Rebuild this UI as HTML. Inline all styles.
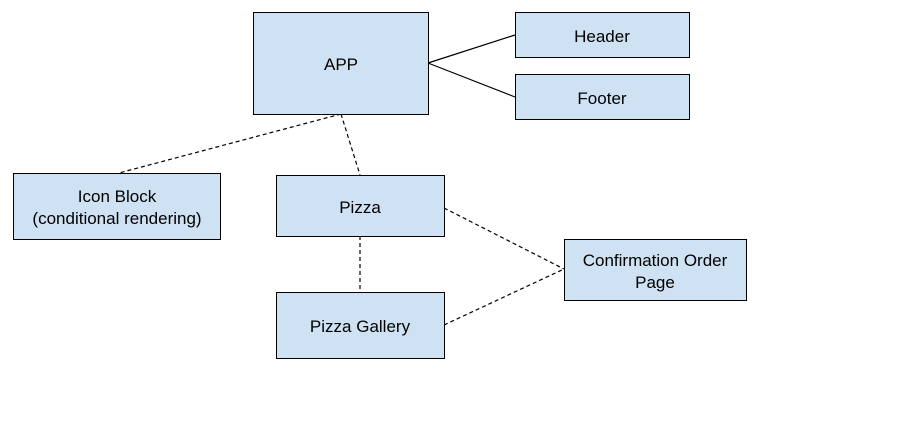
<!DOCTYPE html>
<html><head><style>
body{margin:0;background:#fff;width:917px;height:429px;overflow:hidden}
svg text{font-family:"Liberation Sans",Arial,sans-serif;font-size:17px;fill:#000;text-anchor:middle}
</style></head><body>
<svg width="917" height="429" xmlns="http://www.w3.org/2000/svg">
<g stroke="#000" stroke-width="1.2" fill="none">
<line x1="428" y1="63" x2="515" y2="35"/>
<line x1="428" y1="63" x2="515" y2="97"/>
<g stroke-dasharray="4,3">
<line x1="341" y1="114" x2="119" y2="173"/>
<line x1="341" y1="114" x2="360" y2="175"/>
<line x1="360" y1="236" x2="360" y2="292"/>
<line x1="444" y1="208" x2="564" y2="269"/>
<line x1="444" y1="325" x2="564" y2="269"/>
</g>
</g>
<g fill="#cfe2f3" stroke="#000" stroke-width="1">
<rect x="253.5" y="12.5" width="175" height="102"/>
<rect x="515.5" y="12.5" width="174" height="45"/>
<rect x="515.5" y="74.5" width="174" height="45"/>
<rect x="13.5" y="173.5" width="207" height="66"/>
<rect x="276.5" y="175.5" width="168" height="61"/>
<rect x="276.5" y="292.5" width="168" height="66"/>
<rect x="564.5" y="239.5" width="182" height="61"/>
</g>
<text x="341" y="70">APP</text>
<text x="602" y="42">Header</text>
<text x="602" y="104">Footer</text>
<text x="117" y="202">Icon Block</text>
<text x="117" y="224">(conditional rendering)</text>
<text x="360" y="213">Pizza</text>
<text x="360" y="332">Pizza Gallery</text>
<text x="655" y="266">Confirmation Order</text>
<text x="655" y="288">Page</text>
</svg>
</body></html>
